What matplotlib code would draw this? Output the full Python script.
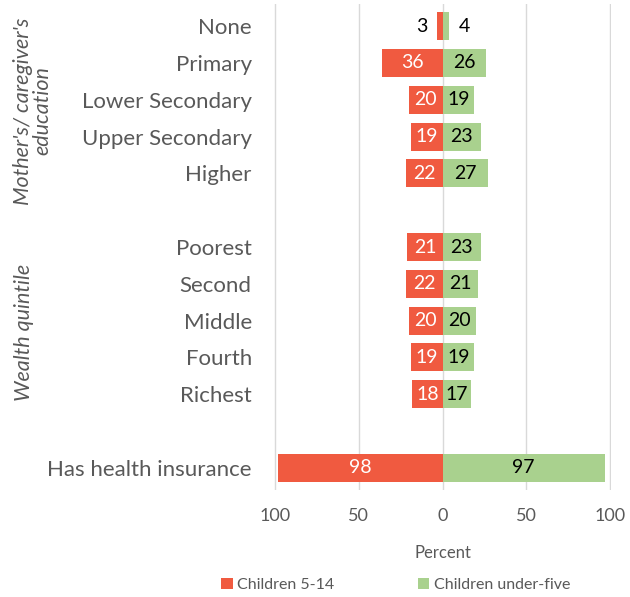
import matplotlib.pyplot as plt
import numpy as np

plt.rcParams['font.family'] = ['Lato', 'DejaVu Sans']

categories = ['None', 'Primary', 'Lower Secondary', 'Upper Secondary', 'Higher',
              'Poorest', 'Second', 'Middle', 'Fourth', 'Richest',
              'Has health insurance']
rows = [0, 1, 2, 3, 4, 6, 7, 8, 9, 10, 12]
older = [3, 36, 20, 19, 22, 21, 22, 20, 19, 18, 98]      # Children 5-14
under_five = [4, 26, 19, 23, 27, 23, 21, 20, 19, 17, 97]  # Children under-five
ticks = [-100, -50, 0, 50, 100]
tick_labels = ['100', '50', '0', '50', '100']

red = '#F05A40'
green = '#A9D18E'
grey = '#595959'

fig = plt.figure(figsize=(6.3, 5.97), dpi=100)
ax = fig.add_axes([274 / 630, 1 - 490 / 597, 337 / 630, 486 / 597])

y = np.array(rows)
ax.barh(y, -np.array(older), height=0.76, color=red, label='Children 5-14', zorder=2)
ax.barh(y, under_five, height=0.76, color=green, label='Children under-five', zorder=2)

for yi, l, r in zip(rows, older, under_five):
    if l < 10:
        ax.text(-l - 6, yi, str(l), ha='right', va='center', fontsize=14, color='black')
    else:
        ax.text(-l / 2, yi, str(l), ha='center', va='center', fontsize=14, color='white')
    if r < 10:
        ax.text(r + 6, yi, str(r), ha='left', va='center', fontsize=14, color='black')
    else:
        ax.text(r / 2, yi, str(r), ha='center', va='center', fontsize=14, color='black')

ax.set_xlim(-100.6, 100.6)
ax.set_ylim(12.6, -0.6)
ax.set_xticks(ticks)
ax.set_xticklabels(tick_labels)
ax.set_yticks(rows)
ax.set_yticklabels(categories)
ax.tick_params(axis='both', length=0, colors=grey)
ax.tick_params(axis='y', labelsize=16, pad=16)
ax.tick_params(axis='x', labelsize=13, pad=13)
for lbl in ax.get_yticklabels():
    lbl.set_color(grey)
ax.xaxis.grid(True, color='#D9D9D9', linewidth=1, zorder=0)
for s in ax.spines.values():
    s.set_visible(False)

ax.set_xlabel('Percent', fontsize=12, color=grey, labelpad=15)

fig.text(33 / 630, 1 - 111 / 597, "Mother's/ caregiver's\neducation", rotation=90,
         ha='center', va='center', fontsize=15.5, style='italic', color=grey,
         linespacing=0.95)
fig.text(24 / 630, 1 - 332 / 597, 'Wealth quintile', rotation=90,
         ha='center', va='center', fontsize=15.5, style='italic', color=grey)

fig.legend(loc='center', bbox_to_anchor=(0.628, 1 - 585 / 597), ncol=2, frameon=False,
           fontsize=11.5, handlelength=0.7, handleheight=0.7, handletextpad=0.3,
           columnspacing=5.2, labelcolor=grey)

fig.savefig('out.png', dpi=100, facecolor='white')
